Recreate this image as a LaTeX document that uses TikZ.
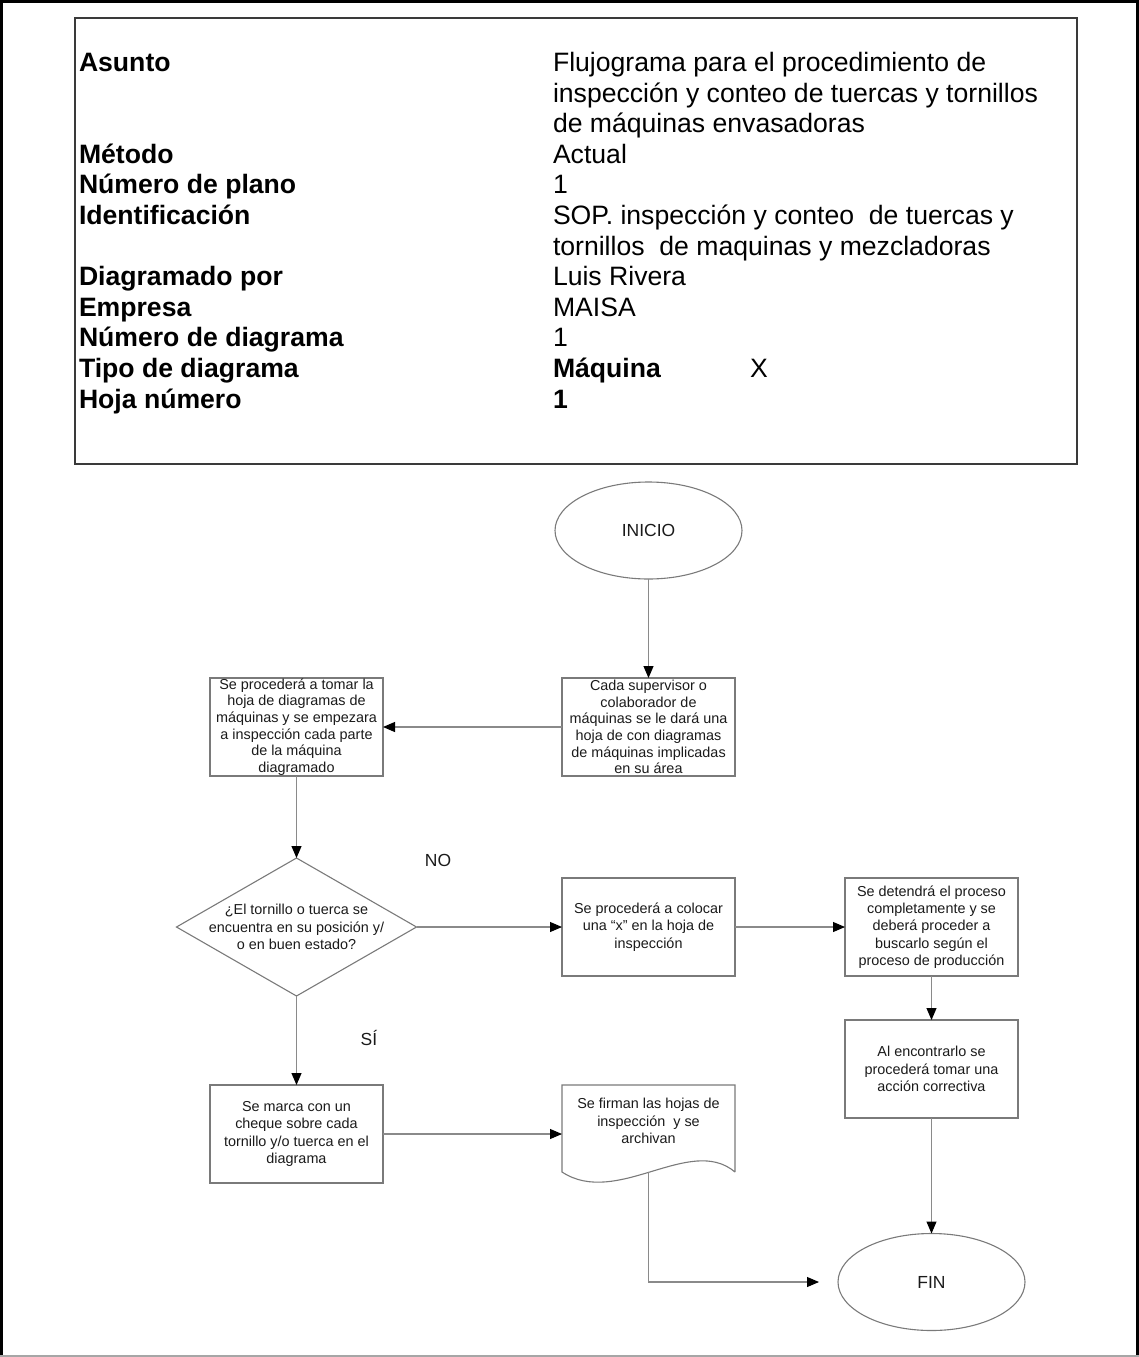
\documentclass[tikz,border=0pt]{standalone}
\usepackage{fontspec}
\setmainfont{Liberation Sans}
\usetikzlibrary{shapes.geometric,arrows.meta,calc}

\definecolor{boxgray}{HTML}{7A7A7A}
\definecolor{linegray}{HTML}{8A8A8A}
\definecolor{textdark}{HTML}{1A1A1A}
\definecolor{hdrline}{HTML}{3A3A3A}

\begin{document}
\begin{tikzpicture}[x=1pt,y=-1pt,
  every node/.style={inner sep=0pt, outer sep=0pt},
  hdr/.style={anchor=base west, font=\fontsize{26.6}{30.6}\selectfont},
  hdrb/.style={anchor=base west, font=\fontsize{26.6}{30.6}\selectfont\bfseries},
  proc/.style={draw=boxgray, line width=1.1pt, minimum width=173pt, minimum height=98pt,
    align=center, text=textdark, font=\fontsize{14.4}{17.4}\selectfont},
  tight/.style={font=\fontsize{14.4}{16.6}\selectfont},
  term/.style={ellipse, draw=boxgray, line width=1.1pt, minimum width=187pt,
    minimum height=97pt, text=textdark, font=\fontsize{17.5}{20}\selectfont},
  flow/.style={draw=linegray, line width=1.1pt,
    -{Triangle[length=12pt,width=10pt,color=black]}},
  tag/.style={text=textdark, font=\fontsize{17.5}{20}\selectfont}
]
\useasboundingbox (0,0) rectangle (1139,1357);

% page frame
\draw[line width=3pt] (1.5,0) -- (1.5,1357);
\draw[line width=3pt] (1137.5,0) -- (1137.5,1357);
\draw[line width=2.5pt] (0,1.25) -- (1139,1.25);
\draw[line width=2pt, black!35] (0,1356) -- (1139,1356);

% header table
\node[draw=hdrline, line width=2pt, minimum width=1002pt, minimum height=446pt,
  anchor=north west] (hdrbox) at (75,18) {};

\node[hdrb] (l0)  at (79, 71.5)  {Asunto};
\node[hdrb] (l3)  at (79, 163.3) {Método};
\node[hdrb] (l4)  at (79, 193.9) {Número de plano};
\node[hdrb] (l5)  at (79, 224.5) {Identificación};
\node[hdrb] (l7)  at (79, 285.7) {Diagramado por};
\node[hdrb] (l8)  at (79, 316.3) {Empresa};
\node[hdrb] (l9)  at (79, 346.9) {Número de diagrama};
\node[hdrb] (l10) at (79, 377.5) {Tipo de diagrama};
\node[hdrb] (l11) at (79, 408.1) {Hoja número};

\node[hdr] (v0)  at (553, 71.5)  {Flujograma para el procedimiento de};
\node[hdr] (v1)  at (553, 102.1) {inspección y conteo de tuercas y tornillos};
\node[hdr] (v2)  at (553, 132.7) {de máquinas envasadoras};
\node[hdr] (v3)  at (553, 163.3) {Actual};
\node[hdr] (v4)  at (553, 193.9) {1};
\node[hdr] (v5)  at (553, 224.5) {SOP. inspección y conteo\ \ de tuercas y};
\node[hdr] (v6)  at (553, 255.1) {tornillos\ \ de maquinas y mezcladoras};
\node[hdr] (v7)  at (553, 285.7) {Luis Rivera};
\node[hdr] (v8)  at (553, 316.3) {MAISA};
\node[hdr] (v9)  at (553, 346.9) {1};
\node[hdrb] (v10) at (553, 377.5) {Máquina};
\node[hdr] (v10x) at (750, 377.5) {X};
\node[hdrb] (v11) at (553, 408.1) {1};

% flowchart nodes
\node[term] (ini) at (648.5, 530.5) {INICIO};

\node[proc, tight] (A) at (648.5, 727) {Cada supervisor o\\colaborador de\\máquinas se le dará una\\hoja de con diagramas\\de máquinas implicadas\\en su área};
\node[proc, tight] (B) at (296.5, 727) {Se procederá a tomar la\\hoja de diagramas de\\máquinas y se empezara\\a inspección cada parte\\de la máquina\\diagramado};

\node[diamond, draw=boxgray, line width=1.1pt, minimum width=240pt, minimum height=138pt] (dec) at (296.5, 927) {};
\node[align=center, text=textdark, font=\fontsize{14.4}{17.4}\selectfont] (decText) at (dec.center) {¿El tornillo o tuerca se\\encuentra en su posición y/\\o en buen estado?};

\node[proc] (C) at (648.5, 927) {Se procederá a colocar\\una “x” en la hoja de\\inspección};
\node[proc] (D) at (931.5, 927) {Se detendrá el proceso\\completamente y se\\deberá proceder a\\buscarlo según el\\proceso de producción};
\node[proc] (E) at (931.5, 1069) {Al encontrarlo se\\procederá tomar una\\acción correctiva};
\node[proc] (F) at (296.5, 1134) {Se marca con un\\cheque sobre cada\\tornillo y/o tuerca en el\\diagrama};

% document shape with wavy lower edge
\node[minimum width=173pt, minimum height=87pt] (doc) at (648.5, 1128.5) {};
\draw[draw=boxgray, line width=1.1pt]
  (doc.south east) -- (doc.north east) -- (doc.north west) -- (doc.south west)
  .. controls ($(doc.south west)+(55,36)$) and ($(doc.south east)+(-45,-38)$) .. (doc.south east);
\node[align=center, text=textdark, font=\fontsize{14.4}{17.6}\selectfont] (docText) at (648.5, 1121) {Se firman las hojas de\\inspección\ \ y se\\archivan};

\node[term] (fin) at (931.5, 1282) {FIN};

% branch labels
\node[tag] (no) at (438, 860) {NO};
\node[tag] (si) at (369, 1038) {SÍ};

% connectors
\draw[flow] (ini) -- (A);
\draw[flow] (A) -- (B);
\draw[flow] (B) -- (dec);
\draw[flow] (dec) -- (C);
\draw[flow] (C) -- (D);
\draw[flow] (D) -- (E);
\draw[flow] (E) -- (fin);
\draw[flow] (dec) -- (F);
\draw[flow] (F.east) -- (F.east -| doc.west);
\draw[flow, shorten >=19pt] (doc.south) |- (fin.west);
\end{tikzpicture}
\end{document}
